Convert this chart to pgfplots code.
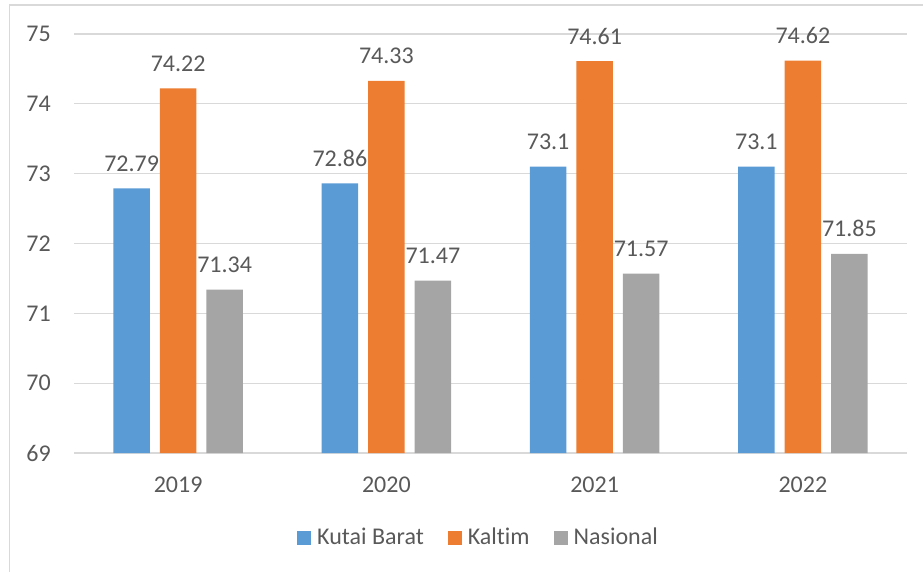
\documentclass[border=0pt]{standalone}
\usepackage{fontspec}
\setmainfont{Carlito}[Ligatures={NoCommon}]
\usepackage{pgfplots}
\pgfplotsset{compat=1.18}
\definecolor{cblue}{HTML}{5B9BD5}
\definecolor{corange}{HTML}{ED7D31}
\definecolor{cgray}{HTML}{A5A5A5}
\definecolor{textc}{HTML}{595959}
\definecolor{gridc}{HTML}{D9D9D9}
\begin{document}
\fontsize{24}{28}\selectfont
\begin{tikzpicture}
\path[use as bounding box] (0pt,0pt) rectangle (923pt,571pt);
\draw[color=gridc, line width=1.3pt] (9.5pt,-5pt) -- (9.5pt,566pt) -- (930pt,566pt);
\begin{axis}[
  at={(74pt,118pt)}, anchor=south west,
  scale only axis, width=833pt, height=419pt,
  xmin=-0.5, xmax=3.5, ymin=69, ymax=75,
  ytick={69,70,71,72,73,74,75},
  xtick={0,1,2,3}, xticklabels={2019,2020,2021,2022},
  axis line style={draw=none},
  major tick length=0pt,
  ymajorgrids, grid style={color=gridc, line width=1.1pt},
  /pgf/number format/assume math mode=true,
  ticklabel style={text=textc, inner sep=0pt},
  yticklabel style={anchor=east, xshift=-23pt},
  xticklabel style={anchor=base, yshift=-39pt},
  ybar, bar width=0.1753,
  nodes near coords,
  every node near coord/.append style={anchor=base, yshift=17pt, inner sep=0pt, text=textc},
  legend columns=3,
  legend style={at={(0.4844,-0.203)}, anchor=center, draw=none, fill=none,
    text=textc, inner sep=0pt,
    /tikz/every odd column/.append style={column sep=6pt},
    /tikz/every even column/.append style={column sep=24pt},
    nodes={inner sep=0pt, anchor=base west}},
  legend image code/.code={\fill[#1] (0pt,0pt) rectangle (14pt,14pt);},
]
\addplot[fill=cblue, draw=none, bar shift=-0.2233] coordinates {(0,72.79) (1,72.86) (2,73.1) (3,73.1)};
\addplot[fill=corange, draw=none, bar shift=0] coordinates {(0,74.22) (1,74.33) (2,74.61) (3,74.62)};
\addplot[fill=cgray, draw=none, bar shift=0.2233] coordinates {(0,71.34) (1,71.47) (2,71.57) (3,71.85)};
\legend{Kutai Barat, Kaltim, Nasional}
\end{axis}
\end{tikzpicture}
\end{document}
